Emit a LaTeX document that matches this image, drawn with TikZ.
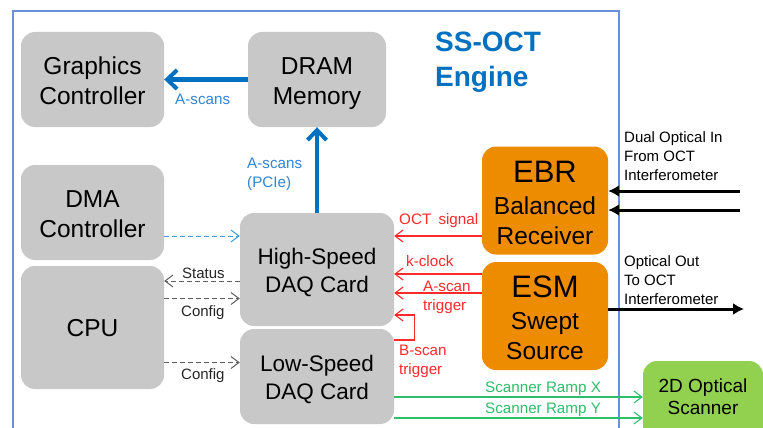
\documentclass[tikz,border=0pt]{standalone}
\usepackage{fontspec}
\setmainfont{Liberation Sans}
\usetikzlibrary{arrows.meta}
\definecolor{framec}{HTML}{6C90D8}
\definecolor{boxgray}{HTML}{C8C8C8}
\definecolor{boxorange}{HTML}{EE8C00}
\definecolor{boxgreen}{HTML}{92D050}
\definecolor{bluemain}{HTML}{0070C0}
\definecolor{bluelabel}{HTML}{2F86D2}
\definecolor{bluedash}{HTML}{3A9ADC}
\definecolor{dashgray}{HTML}{606060}
\definecolor{redline}{HTML}{FF2A2A}
\definecolor{greenline}{HTML}{2DBE6C}
\newcommand{\tstrut}{\rule{0pt}{26pt}}
\newcommand{\bstrut}{\rule[-7pt]{0pt}{7pt}}
\newcommand{\bstrutb}{\rule[-9pt]{0pt}{9pt}}
\tikzset{
  x=1pt,y=-1pt,
  boxbase/.style={rectangle,rounded corners=14pt,inner sep=0pt,align=center,text=black},
  graybox/.style={boxbase,fill=boxgray,font=\fontsize{24.5}{30}\selectfont},
  daqbox/.style={boxbase,fill=boxgray,font=\fontsize{22.5}{28}\selectfont},
  orangebox/.style={boxbase,fill=boxorange,font=\fontsize{24.5}{30}\selectfont},
  greenbox/.style={boxbase,fill=boxgreen},
  lab/.style={inner sep=0pt,align=left,anchor=north west,font=\fontsize{15.2}{19}\selectfont},
  blab/.style={inner sep=0pt,align=left,anchor=north west,font=\fontsize{15}{19}\selectfont},
  bluethick/.style={draw=bluemain,line width=4.5pt,-{Straight Barb[length=10pt,width=19pt,line width=4pt]}},
  bluedashed/.style={draw=bluedash,line width=1pt,dash pattern=on 5pt off 3pt,-{Straight Barb[length=8pt,width=12pt,line width=1pt]}},
  graydashed/.style={draw=dashgray,line width=1pt,dash pattern=on 5pt off 3pt,-{Straight Barb[length=8pt,width=12pt,line width=1pt]}},
  redarrow/.style={draw=redline,line width=1.1pt,-{Straight Barb[length=8pt,width=12pt,line width=1.1pt]}},
  greenarrow/.style={draw=greenline,line width=1.1pt,-{Straight Barb[length=8pt,width=12pt,line width=1.1pt]}},
  blackarrow/.style={draw=black,line width=3pt,-{Latex[length=11pt,width=12pt]}},
}
\begin{document}
\begin{tikzpicture}
\useasboundingbox (0,0) rectangle (763,428);
\clip (0,0) rectangle (763,428);
\fill[white] (0,0) rectangle (763,428);
\draw[framec,line width=2pt] (12.5,445) -- (12.5,11.5) -- (618.5,11.5) -- (618.5,445);

\node[graybox,minimum width=143pt,minimum height=95pt] (gfx) at (92.5,79.5) {\tstrut Graphics\\Controller\bstrut};
\node[graybox,minimum width=138pt,minimum height=95pt] (dram) at (317,79.5) {\tstrut DRAM\\Memory\bstrut};
\node[graybox,minimum width=143pt,minimum height=95pt] (dma) at (92.5,212.5) {\tstrut DMA\\Controller\bstrut};
\node[graybox,minimum width=143pt,minimum height=123pt] (cpu) at (92.5,327.5) {\tstrut CPU\bstrutb};
\node[daqbox,minimum width=154pt,minimum height=113pt] (high) at (317,269.5) {\tstrut High-Speed\\DAQ Card\bstrutb};
\node[daqbox,minimum width=154pt,minimum height=95pt] (low) at (317,376.5) {\tstrut Low-Speed\\DAQ Card\bstrutb};
\node[orangebox,minimum width=126pt,minimum height=108pt] (ebr) at (545,200.5) {\tstrut\fontsize{31}{38}\selectfont EBR\\[2pt]Balanced\\Receiver};
\node[orangebox,minimum width=126pt,minimum height=108pt] (esm) at (545,316) {\tstrut\fontsize{31}{38}\selectfont ESM\\[2pt]Swept\\Source};
\node[greenbox,minimum width=120pt,minimum height=90pt] (scan) at (703,406) {};
\node[inner sep=0pt,align=center,font=\fontsize{19}{22}\selectfont] (scantext) at (703,396.5) {2D Optical\\Scanner};

\node[inner sep=0pt,align=left,anchor=north west,text=bluemain,font=\bfseries\fontsize{28}{35}\selectfont] (title) at (435,32) {SS-OCT\\Engine};

% thick data paths
\draw[bluethick] (dram.west) -- (gfx.east);
\draw[bluethick] (high.north) -- (dram.south);

% dashed links
\draw[bluedashed] ([yshift=-23.5]dma.east) -- ([yshift=-23.5]dma.east -| high.west);
\draw[graydashed] ([yshift=-11.5]high.west) -- ([yshift=-11.5]high.west -| cpu.east);
\draw[graydashed] ([yshift=-29]high.west -| cpu.east) -- ([yshift=-29]high.west);
\draw[graydashed] ([yshift=-35]cpu.east) -- ([yshift=-35]cpu.east -| low.west);

% red signals
\draw[redarrow] ([yshift=-35.5]ebr.west) -- ([yshift=-35.5]ebr.west -| high.east);
\draw[redarrow] ([yshift=42]esm.west) -- ([yshift=42]esm.west -| high.east);
\draw[redarrow] ([yshift=23]esm.west) -- ([yshift=23]esm.west -| high.east);
\draw[redarrow] ([yshift=36.5]low.east) -- ++(20,0) |- ([yshift=-45.5]high.east);

% green ramps
\draw[greenarrow] ([yshift=-20.5]low.east) -- ([yshift=-20.5]low.east -| scan.west);
\draw[greenarrow] ([yshift=-41.5]low.east) -- ([yshift=-41.5]low.east -| scan.west);

% optical
\coordinate (inA) at (740,191);
\coordinate (inB) at (740,210);
\coordinate (outA) at (744,309);
\draw[blackarrow] (inA) -- (inA -| ebr.east);
\draw[blackarrow] (inB) -- (inB -| ebr.east);
\draw[blackarrow] (esm.east |- outA) -- (outA);

% labels
\node[lab,text=bluelabel] (l1) at (175,94) {A-scans};
\node[lab,text=bluelabel] (l2) at (247,158) {A-scans\\(PCIe)};
\node[blab,text=black!85] (l3) at (182,268) {Status};
\node[blab,text=black!85] (l4) at (181,305) {Config};
\node[blab,text=black!85] (l5) at (181,368) {Config};
\node[lab,text=redline] (l6) at (399,213) {OCT\hspace{3pt} signal};
\node[lab,text=redline] (l7) at (406,255) {k-clock};
\node[lab,text=redline] (l8) at (423,281) {A-scan\\trigger};
\node[lab,text=redline] (l9) at (399,345) {B-scan\\trigger};
\node[lab,text=greenline] (l10) at (485,382) {Scanner Ramp X};
\node[lab,text=greenline] (l11) at (485,403) {Scanner Ramp Y};
\node[blab,text=black] (l12) at (624,131) {Dual Optical In\\From OCT\\Interferometer};
\node[blab,text=black] (l13) at (624,255) {Optical Out\\To OCT\\Interferometer};
\end{tikzpicture}
\end{document}
